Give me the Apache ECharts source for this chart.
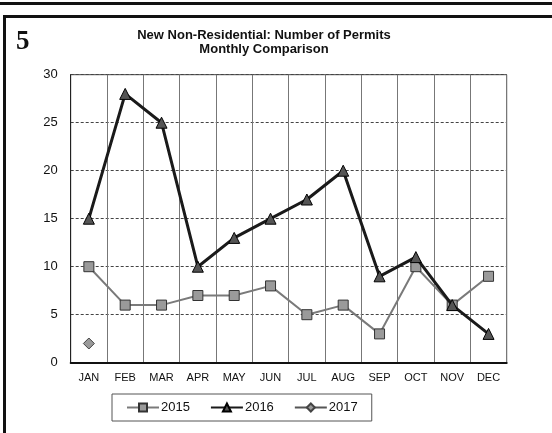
<!DOCTYPE html>
<html>
<head>
<meta charset="utf-8">
<script src="https://cdn.jsdelivr.net/npm/echarts@6/dist/echarts.min.js"></script>
<style>
  html, body { margin: 0; padding: 0; background: #fff; }
  #chart { width: 552px; height: 433px; }
</style>
</head>
<body>
<div id="chart"></div>
<script>
// Monthly permit counts for new non-residential construction
const months = ['JAN', 'FEB', 'MAR', 'APR', 'MAY', 'JUN', 'JUL', 'AUG', 'SEP', 'OCT', 'NOV', 'DEC'];
const permits2015 = [10, 6, 6, 7, 7, 8, 5, 6, 3, 10, 6, 9];
const permits2016 = [15, 28, 25, 10, 13, 15, 17, 20, 9, 11, 6, 3];
const permits2017 = [2, null, null, null, null, null, null, null, null, null, null, null];
const yTicks = [0, 5, 10, 15, 20, 25, 30];
const titleLines = ['New Non-Residential: Number of Permits', 'Monthly Comparison'];

const chart = echarts.init(document.getElementById('chart'));

chart.setOption({
  backgroundColor: '#fff',
  animation: false,
  textStyle: { fontFamily: 'Liberation Sans, Arial, sans-serif' },
  graphic: [
    // page frame rules
    { type: 'rect', shape: { x: 0, y: 2, width: 552, height: 3 }, style: { fill: '#111' } },
    { type: 'rect', shape: { x: 4, y: 15, width: 548, height: 3 }, style: { fill: '#111' } },
    { type: 'rect', shape: { x: 3, y: 15, width: 3, height: 418 }, style: { fill: '#111' } },
    // panel number
    {
      type: 'text', x: 16, y: 29,
      style: { text: '5', font: 'bold 27px "Liberation Serif", serif', fill: '#111' }
    },
    // two-line heading
    {
      type: 'text', x: 264, y: 28,
      style: {
        text: titleLines.join('\n'),
        font: 'bold 13px "Liberation Sans", Arial, sans-serif',
        lineHeight: 14,
        align: 'center',
        fill: '#111'
      }
    }
  ],
  legend: {
    left: 112,
    top: 394,
    width: 257,
    itemGap: 20,
    itemWidth: 32,
    itemHeight: 10,
    padding: [7, 14, 7, 14],
    borderColor: '#555',
    borderWidth: 1,
    textStyle: { fontSize: 13, color: '#111', padding: [0, 0, 0, -3] },
    data: ['2015', '2016', '2017']
  },
  grid: { left: 70.7, right: 45.3, top: 74.7, bottom: 70.3, show: true, borderColor: '#444', borderWidth: 1 },
  xAxis: {
    type: 'category',
    data: months,
    boundaryGap: true,
    axisLine: { lineStyle: { color: '#111', width: 2 } },
    axisTick: { show: false },
    axisLabel: { fontSize: 11, color: '#111', margin: 10 },
    splitLine: { show: true, lineStyle: { color: '#777', width: 1 } }
  },
  yAxis: {
    type: 'value',
    min: yTicks[0],
    max: yTicks[yTicks.length - 1],
    interval: 5,
    axisLine: { show: true, lineStyle: { color: '#222', width: 1 } },
    axisTick: { show: false },
    axisLabel: { fontSize: 13, color: '#111', margin: 13 },
    splitLine: { show: true, lineStyle: { color: '#444', width: 1, type: [3, 2] } }
  },
  series: [
    {
      name: '2015',
      type: 'line',
      data: permits2015,
      symbol: 'rect',
      symbolSize: 10,
      lineStyle: { color: '#7a7a7a', width: 2 },
      itemStyle: { color: '#9a9a9a', borderColor: '#333', borderWidth: 1 },
      z: 3
    },
    {
      name: '2016',
      type: 'line',
      data: permits2016,
      symbol: 'triangle',
      symbolSize: 11,
      lineStyle: { color: '#1a1a1a', width: 3 },
      itemStyle: { color: '#555', borderColor: '#000', borderWidth: 1 },
      z: 4
    },
    {
      name: '2017',
      type: 'line',
      data: permits2017,
      symbol: 'diamond',
      symbolSize: 11,
      showSymbol: true,
      lineStyle: { color: '#555', width: 2 },
      itemStyle: { color: '#9a9a9a', borderColor: '#444', borderWidth: 1 },
      z: 3
    }
  ]
});
</script>
</body>
</html>
